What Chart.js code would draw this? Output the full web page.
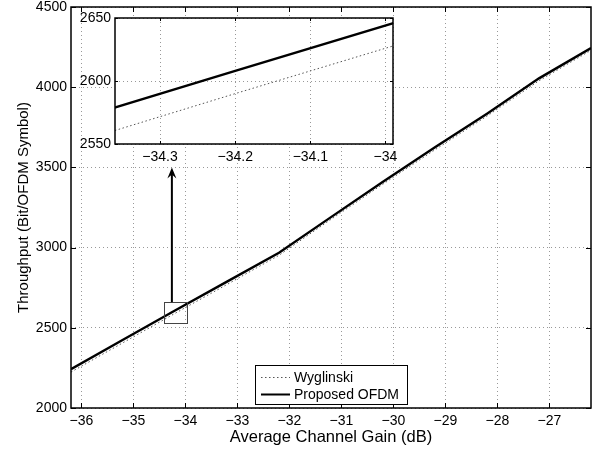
<!DOCTYPE html>
<html>
<head>
<meta charset="utf-8">
<script src="https://cdn.jsdelivr.net/npm/chart.js@4"></script>
<style>
  html, body { margin: 0; padding: 0; background: #fff; }
  #wrap { position: relative; width: 603px; height: 451px; }
  #mainChart { position: absolute; left: 0; top: 0; }
  #insetChart { position: absolute; left: 70px; top: 8px; }
</style>
</head>
<body>
<div id="wrap">
  <canvas id="mainChart" width="603" height="451"></canvas>
  <canvas id="insetChart" width="330" height="160"></canvas>
</div>
<script>
// ── Data ──
const GAIN_DB = [-36.2, -35.2, -34.2, -33.2, -32.2, -31.2, -30.2, -29.2, -28.2, -27.2, -26.2];
const PROPOSED = [2242, 2426, 2608, 2788, 2968, 3190, 3410, 3625, 3835, 4055, 4244];
const WYGLINSKI = [2224, 2407, 2590, 2770, 2952, 3176, 3396, 3610, 3820, 4040, 4230];

const X_TICKS = [-36, -35, -34, -33, -32, -31, -30, -29, -28, -27];
const Y_TICKS = [2000, 2500, 3000, 3500, 4000, 4500];
const INSET_X_TICKS = [-34.3, -34.2, -34.1, -34];
const INSET_Y_TICKS = [2550, 2600, 2650];

// zoom rectangle [xMin, xMax, yMin, yMax] and arrow [x, yFrom, yTo], in data units
const ZOOM_BOX = [-34.42, -33.98, 2530, 2660];
const ARROW = [-34.26, 2660, 3500];

Chart.defaults.font.family = '"Liberation Sans", Arial, Helvetica, sans-serif';
Chart.defaults.font.size = 14;
Chart.defaults.font.lineHeight = 1.2;
Chart.defaults.color = "#000";

const fmt = (v) => (v < 0 ? "\u2212" : "") + Math.abs(v);
const points = (ys) => GAIN_DB.map((x, i) => ({ x, y: ys[i] }));

function datasets() {
    return [
        {
            label: "Wyglinski",
            data: points(WYGLINSKI),
            borderColor: "#555",
            borderWidth: 1,
            borderDash: [1.5, 2.5],
            pointRadius: 0,
            tension: 0,
            order: 1,
        },
        {
            label: "Proposed OFDM",
            data: points(PROPOSED),
            borderColor: "#000",
            borderWidth: 2.4,
            pointRadius: 0,
            tension: 0,
            order: 0,
        },
    ];
}

function zeroPad(axis) {
    axis.paddingLeft = 0;
    axis.paddingRight = 0;
    axis.paddingTop = 0;
    axis.paddingBottom = 0;
}

function axisOpts(min, max, ticks, size, horizontal, title) {
    return {
        type: "linear",
        min,
        max,
        afterBuildTicks: (a) => { a.ticks = ticks.map((v) => ({ value: v })); },
        afterFit: (a) => {
            if (horizontal) a.height = size; else a.width = size;
            zeroPad(a);
        },
        grid: { color: "#999", drawTicks: false },
        border: { display: false, dash: [1, 3] },
        ticks: { padding: horizontal ? 5 : 4, autoSkip: false, maxRotation: 0, callback: (v) => fmt(v) },
        title: title ? { display: true, ...title } : { display: false },
    };
}

// MATLAB style frame: box plus inward ticks on all four sides
function framePlugin(tickLen, boxWidth) {
    return {
        id: "frame",
        afterDatasetsDraw(chart) {
            const { ctx, chartArea: a, scales: { x, y } } = chart;
            ctx.save();
            ctx.strokeStyle = "#000";
            ctx.lineWidth = 1;
            ctx.beginPath();
            x.ticks.forEach((t) => {
                const px = Math.round(x.getPixelForValue(t.value)) + 0.5;
                ctx.moveTo(px, a.bottom); ctx.lineTo(px, a.bottom - tickLen);
                ctx.moveTo(px, a.top); ctx.lineTo(px, a.top + tickLen);
            });
            y.ticks.forEach((t) => {
                const py = Math.round(y.getPixelForValue(t.value)) + 0.5;
                ctx.moveTo(a.left, py); ctx.lineTo(a.left + tickLen, py);
                ctx.moveTo(a.right, py); ctx.lineTo(a.right - tickLen, py);
            });
            ctx.stroke();
            ctx.lineWidth = boxWidth;
            ctx.strokeRect(a.left, a.top, a.right - a.left, a.bottom - a.top);
            ctx.restore();
        },
    };
}

// ── Zoom box, arrow and legend on the main axes ──
const annotations = {
    id: "annotations",
    afterDraw(chart) {
        const { ctx, scales: { x, y } } = chart;
        ctx.save();

        // zoom rectangle
        const x0 = x.getPixelForValue(ZOOM_BOX[0]);
        const x1 = x.getPixelForValue(ZOOM_BOX[1]);
        const y0 = y.getPixelForValue(ZOOM_BOX[2]);
        const y1 = y.getPixelForValue(ZOOM_BOX[3]);
        ctx.strokeStyle = "#444";
        ctx.lineWidth = 1;
        ctx.strokeRect(Math.round(x0) + 0.5, Math.round(y1) + 0.5, Math.round(x1 - x0), Math.round(y0 - y1));

        // arrow up to the inset
        const ax = x.getPixelForValue(ARROW[0]);
        const ay0 = y.getPixelForValue(ARROW[1]);
        const ay1 = y.getPixelForValue(ARROW[2]);
        ctx.strokeStyle = "#000";
        ctx.fillStyle = "#000";
        ctx.lineWidth = 2;
        ctx.beginPath();
        ctx.moveTo(ax, ay0);
        ctx.lineTo(ax, ay1 + 6);
        ctx.stroke();
        ctx.beginPath();
        ctx.moveTo(ax, ay1);
        ctx.lineTo(ax - 4.5, ay1 + 11);
        ctx.lineTo(ax, ay1 + 7);
        ctx.lineTo(ax + 4.5, ay1 + 11);
        ctx.closePath();
        ctx.fill();

        // legend
        const lx = 255, ly = 365, lw = 152, lh = 39;
        ctx.fillStyle = "#fff";
        ctx.fillRect(lx, ly, lw, lh);
        ctx.strokeStyle = "#000";
        ctx.lineWidth = 1;
        ctx.strokeRect(lx + 0.5, ly + 0.5, lw, lh);
        ctx.font = '14px "Liberation Sans", Arial, sans-serif';
        ctx.textBaseline = "middle";
        ctx.textAlign = "left";
        chart.data.datasets.forEach((ds, i) => {
            const ry = Math.round(ly + 12 + i * 16.5) + 0.5;
            ctx.strokeStyle = ds.borderColor;
            ctx.lineWidth = Math.min(ds.borderWidth, 2);
            ctx.setLineDash(ds.borderDash || []);
            ctx.beginPath();
            ctx.moveTo(lx + 6, ry);
            ctx.lineTo(lx + 35, ry);
            ctx.stroke();
            ctx.setLineDash([]);
            ctx.fillStyle = "#000";
            ctx.fillText(ds.label, lx + 39, ry + 1);
        });
        ctx.restore();
    },
};

const whiteArea = {
    id: "whiteArea",
    beforeDraw(chart) {
        const { ctx, chartArea: a } = chart;
        ctx.save();
        ctx.fillStyle = "#fff";
        ctx.fillRect(a.left, a.top, a.right - a.left, a.bottom - a.top);
        ctx.restore();
    },
};

// ── Main chart ──
new Chart(document.getElementById("mainChart"), {
    type: "line",
    data: { datasets: datasets() },
    options: {
        responsive: false,
        animation: false,
        events: [],
        layout: { padding: { top: 7, right: 12, bottom: 0, left: 0 } },
        plugins: { legend: { display: false }, tooltip: { enabled: false } },
        scales: {
            x: axisOpts(-36.2, -26.2, X_TICKS, 43, true,
                { text: "Average Channel Gain (dB)", font: { size: 16.5 }, padding: { bottom: 3.5 } }),
            y: axisOpts(2000, 4500, Y_TICKS, 71, false,
                { text: "Throughput (Bit/OFDM Symbol)", font: { size: 15 }, padding: { top: 15 } }),
        },
    },
    plugins: [framePlugin(5, 1.5), annotations],
});

// ── Inset (zoomed view) ──
new Chart(document.getElementById("insetChart"), {
    type: "line",
    data: { datasets: datasets() },
    options: {
        responsive: false,
        animation: false,
        events: [],
        layout: { padding: { top: 10, right: 7, bottom: 0, left: 0 } },
        plugins: { legend: { display: false }, tooltip: { enabled: false } },
        scales: {
            x: axisOpts(-34.36, -33.99, INSET_X_TICKS, 24, true),
            y: axisOpts(2550, 2650, INSET_Y_TICKS, 45, false),
        },
    },
    plugins: [whiteArea, framePlugin(3, 1.5)],
});
</script>
</body>
</html>
